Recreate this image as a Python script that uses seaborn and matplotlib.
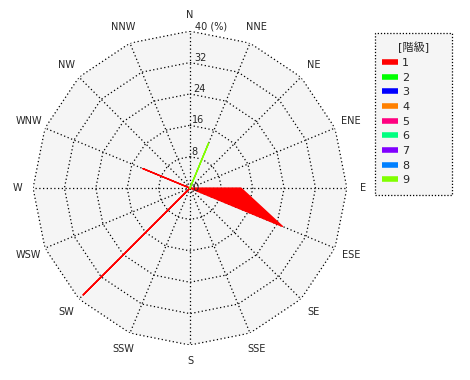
import numpy as np
import pandas as pd
import matplotlib
matplotlib.use("Agg")
import matplotlib.pyplot as plt
import seaborn as sns
from matplotlib.lines import Line2D
from matplotlib.patches import Rectangle

directions = ["N", "NNE", "NE", "ENE", "E", "ESE", "SE", "SSE",
              "S", "SSW", "SW", "WSW", "W", "WNW", "NW", "NNW"]
classes = ["1", "2", "3", "4", "5", "6", "7", "8", "9"]
class_colors = ["#ff0000", "#00ff00", "#0000ff", "#ff8000", "#ff0080",
                "#00ff80", "#8000ff", "#0080ff", "#80ff00"]
zeros = [0.0] * 16
class1 = [0, 0, 0, 0, 13.0, 25.5, 0, 0, 0, 0, 38.5, 0, 0, 13.0, 0, 0]
class9 = [0, 12.4, 0, 0, 0, 0, 0, 0, 0, 0, 0, 0, 0, 0, 0, 0]
series = {"1": class1, "2": zeros, "3": zeros, "4": zeros, "5": zeros,
          "6": zeros, "7": zeros, "8": zeros, "9": class9}
ring_values = [8, 16, 24, 32, 40]
ring_labels = ["8", "16", "24", "32", "40 (%)"]
legend_title = "[階級]"

sns.set_style("white")
plt.rcParams["font.family"] = ["DejaVu Sans", "Noto Sans CJK JP"]

W, H = 470, 380
fig = plt.figure(figsize=(4.7, 3.8), dpi=100)
fig.patch.set_facecolor("white")
ax = fig.add_axes([0.0702, 0.092, 0.668, 0.826], projection="polar")
ax.set_theta_zero_location("N")
ax.set_theta_direction(-1)
ax.set_ylim(0, 40)
ax.grid(False)
ax.set_xticks([])
ax.set_yticks([])
ax.spines["polar"].set_visible(False)
ax.patch.set_visible(False)

n = len(directions)
theta = np.arange(n) * 2 * np.pi / n
theta_c = np.append(theta, theta[0])

# background polygon
ax.fill(theta_c, [40] * (n + 1), color="#f5f5f5", zorder=0, linewidth=0)
# ring polygons
for rv in ring_values:
    ax.plot(theta_c, [rv] * (n + 1), color="black", linestyle=(0, (1, 2)),
            linewidth=0.9, zorder=1)
# spokes
for t in theta:
    ax.plot([t, t], [0, 40], color="black", linestyle=(0, (1, 2)),
            linewidth=0.9, zorder=1)

# data
rows = []
for cls in classes:
    vals = series[cls]
    for i in range(n + 1):
        rows.append({"class": cls, "theta": theta_c[i], "value": vals[i % n], "order": i})
df = pd.DataFrame(rows)
palette = dict(zip(classes, class_colors))
for cls in classes:
    sub = df[df["class"] == cls]
    if sub["value"].sum() > 0:
        ax.fill(sub["theta"], sub["value"], color=palette[cls], zorder=3, linewidth=0)
sns.lineplot(data=df, x="theta", y="value", hue="class", palette=palette,
             units="class", estimator=None, sort=False, ax=ax, linewidth=1.0,
             legend=False, zorder=4)
ax.set_xlabel("")
ax.set_ylabel("")
ax.set_ylim(0, 40)

# direction labels
for t, d in zip(theta, directions):
    r = 44.0 if d in ("N", "S", "E", "W") else 44.5
    ax.text(t, r, d, ha="center", va="center", fontsize=7, clip_on=False)

# ring labels
ax.text(0, 0, " 0", ha="left", va="center", fontsize=7, zorder=5)
for rv, lab in zip(ring_values, ring_labels):
    ax.text(np.deg2rad(2.0), rv, lab, ha="left", va="bottom", fontsize=7, zorder=5)

# legend frame
x0, y0, x1, y1 = 375, 33, 452, 195
fig.patches.append(Rectangle((x0 / W, 1 - y1 / H), (x1 - x0) / W, (y1 - y0) / H,
                             transform=fig.transFigure, facecolor="#f5f5f5",
                             edgecolor="black", linestyle=(0, (1, 1.5)),
                             linewidth=0.9, zorder=0))
handles = [Line2D([0], [0], color=c, linewidth=4, solid_capstyle="butt")
           for c in class_colors]
leg = fig.legend(handles, classes, title=legend_title, loc="upper left",
                 bbox_to_anchor=(372 / W, 1 - 34 / H), fontsize=8,
                 title_fontsize=8, handlelength=1.5, handletextpad=0.35,
                 labelspacing=0.42, borderpad=0.2, frameon=False,
                 alignment="center")
leg.get_title().set_position((18, 0))

fig.savefig("out.png", dpi=100)
